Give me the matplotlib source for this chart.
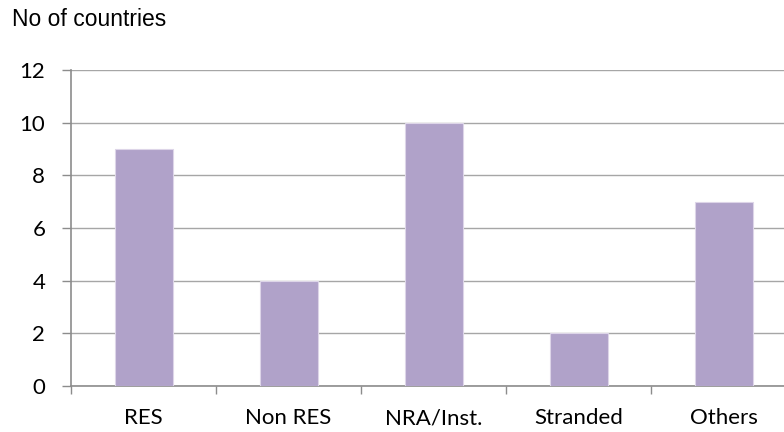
import numpy as np
import matplotlib.pyplot as plt

categories = ["RES", "Non RES", "NRA/Inst.", "Stranded", "Others"]
counts = [9, 4, 10, 2, 7]
y_ticks = [0, 2, 4, 6, 8, 10, 12]

fig = plt.figure(figsize=(7.84, 4.32), dpi=100)
# the plot area runs a little past the right edge, as in the original
ax = fig.add_axes([71 / 784, 1 - 386 / 432, 725 / 784, 316 / 432])

x = np.arange(len(categories))
ax.bar(x, counts, width=0.4, color="#b0a2c9", edgecolor="#ddd5e8",
       linewidth=0.8, zorder=3)

ax.set_xlim(-0.5, len(categories) - 0.5)
ax.set_ylim(0, 12)
ax.set_yticks(y_ticks)
ax.set_yticklabels([str(v) for v in y_ticks], fontsize=16, family="Lato")
ax.yaxis.grid(True, color="#a6a6a6", linewidth=1.0, zorder=0)

# category labels between the tick marks
ax.set_xticks(np.arange(len(categories) + 1) - 0.5)
ax.set_xticklabels([])
ax.set_xticks(x, minor=True)
ax.set_xticklabels(categories, minor=True, fontsize=16, family="Lato")
ax.tick_params(axis="x", which="minor", length=0, pad=16)
ax.tick_params(axis="x", which="major", length=5.8, width=1, color="#8c8c8c",
               direction="out")
ax.tick_params(axis="y", length=6.5, width=1, color="#8c8c8c", pad=12)

for side in ["top", "right"]:
    ax.spines[side].set_visible(False)
for side in ["left", "bottom"]:
    ax.spines[side].set_color("#8c8c8c")
    ax.spines[side].set_linewidth(1.2)

fig.text(12 / 784, 1 - 20 / 432, "No of countries", fontsize=16.5,
         family="Liberation Sans", va="center", ha="left")

fig.savefig("out.png", dpi=100)
